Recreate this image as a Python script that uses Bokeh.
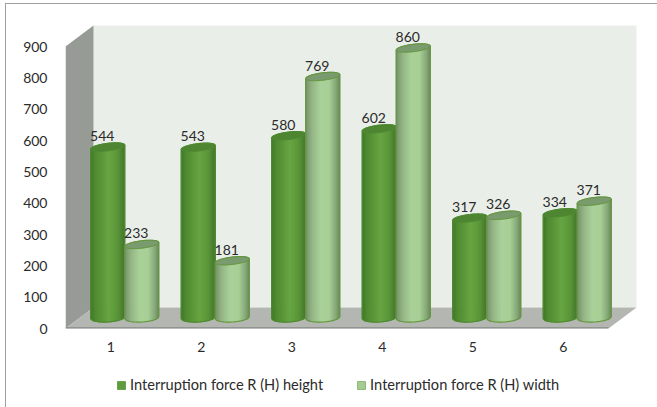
import math
from bokeh.plotting import figure
from bokeh.layouts import column
from bokeh.models import FixedTicker, Legend, LegendItem, ColumnDataSource
from bokeh.core.properties import value
from bokeh.embed import file_html
from bokeh.resources import INLINE

categories = [1, 2, 3, 4, 5, 6]
height_values = [544, 543, 580, 602, 317, 334]
width_values = [233, 181, 769, 860, 326, 371]
y_ticks = [0, 100, 200, 300, 400, 500, 600, 700, 800, 900]
series_names = ["Interruption force R (H) height", "Interruption force R (H) width"]

FONT = "Lato"
TXT = "#2b2b2b"
PX_X = 90.5
PX_Y = 282 / 900
DX, DY = 28 / PX_X, 21 / PX_Y      # depth of the box
MX, MY = 14 / PX_X, 11 / PX_Y      # depth of the bar plane
HW = 17 / PX_X                     # cylinder half width
N = 34

def hex2(c):
    return [int(c[i:i + 2], 16) for i in (1, 3, 5)]

def ramp(stops, t):
    for (a, ca), (b, cb) in zip(stops, stops[1:]):
        if t <= b:
            f = (t - a) / (b - a)
            x, y = hex2(ca), hex2(cb)
            return "#%02x%02x%02x" % tuple(round(x[i] + (y[i] - x[i]) * f) for i in range(3))
    return stops[-1][1]

dark = [(0, "#3f7526"), (.15, "#4f8a30"), (.55, "#67a442"), (.8, "#5a9638"), (1, "#44782b")]
light = [(0, "#738f68"), (.2, "#94b585"), (.45, "#a9d098"), (.7, "#a8cf96"), (.9, "#86a878"), (1, "#6d8b61")]

p = figure(width=651, height=358, output_backend="svg", toolbar_location=None,
           x_range=(0.5, 0.5 + 575 / PX_X), y_range=(0, 308 / PX_Y),
           min_border_left=59, min_border_right=17, min_border_top=16, min_border_bottom=34,
           outline_line_color=None, background_fill_color="white", border_fill_color="white")
p.grid.visible = False

xl, xr = 0.5, 6.5
top = max(y_ticks)
p.patch([xl + DX, xr + DX, xr + DX, xl + DX], [DY, DY, top + DY, top + DY], fill_color="#e9efe8", line_color=None)
p.patch([xl, xl + DX, xl + DX, xl], [0, DY, top + DY, top], fill_color="#969b96", line_color=None)
p.patch([xl, xl + DX, xr + DX, xr], [0, DY, DY, 0], fill_color="#b4b7b1", line_color=None)
p.line([xl, xr], [1, 1], line_color="#858a85", line_width=2)

def cylinder(cx, val, stops, cap, edge):
    base = MY
    tp = base + val
    e_b, e_t = 4.5 / PX_Y, 3.7 / PX_Y
    t_b, t_t = 1 / PX_Y, 2 / PX_Y
    xs, ys, cols = [], [], []
    for i in range(N):
        u0 = -1 + 2 * i / N
        u1 = -1 + 2 * (i + 1) / N
        bot = lambda u: base + t_b * u - e_b * math.sqrt(max(0, 1 - u * u))
        upp = lambda u: tp + t_t * u
        xs.append([cx + HW * u0, cx + HW * u1, cx + HW * u1, cx + HW * u0])
        ys.append([bot(u0), bot(u1), upp(u1), upp(u0)])
        cols.append(ramp(stops, (i + .5) / N))
    p.patches(xs, ys, fill_color=cols, line_color=cols, line_width=1)
    # silhouette
    ang = [math.pi * k / 30 for k in range(31)]
    ox = [cx + HW * math.cos(a + math.pi) for a in ang]
    oy = [base + t_b * math.cos(a + math.pi) - e_b * math.sin(a) for a in ang]
    ox += [cx + HW * math.cos(a) for a in ang]
    oy += [tp + t_t * math.cos(a) + e_t * math.sin(a) for a in ang]
    p.patch(ox, oy, fill_color=None, line_color=edge, line_width=1.2)
    # top cap
    ang = [2 * math.pi * k / 48 for k in range(48)]
    p.patch([cx + HW * math.cos(a) for a in ang],
            [tp + t_t * math.cos(a) + e_t * math.sin(a) for a in ang],
            fill_color=cap, line_color=edge, line_width=1)

lx, ly, lt = [], [], []
for c, h, w in zip(categories, height_values, width_values):
    cylinder(c + MX - HW, h, dark, "#4d8531", "#4f8a32")
    cylinder(c + MX + HW, w, light, "#7a9b6d", "#64963f")
    lx += [c + MX - HW, c + MX + HW]
    ly += [MY + h, MY + w]
    lt += [str(h), str(w)]

p.text(x="x", y="y", text="t", source=ColumnDataSource(dict(x=lx, y=ly, t=lt)),
       text_font=value(FONT), text_font_size="14px", text_color=TXT,
       text_align="center", text_baseline="bottom", x_offset=-5.5, y_offset=-6)

p.xaxis.ticker = FixedTicker(ticks=categories)
p.yaxis.ticker = FixedTicker(ticks=y_ticks)
for ax, off in ((p.xaxis, 7), (p.yaxis, 12)):
    ax.axis_line_color = None
    ax.major_tick_line_color = None
    ax.minor_tick_line_color = None
    ax.major_label_text_font = FONT
    ax.major_label_text_font_size = "14px"
    ax.major_label_text_color = TXT
    ax.major_label_standoff = off

# legend strip below the chart
q = figure(width=651, height=45, output_backend="svg", toolbar_location=None,
           x_range=(0, 651), y_range=(0, 45), x_axis_location=None, y_axis_location=None,
           min_border=0, outline_line_color=None, background_fill_color="white", border_fill_color="white")
q.grid.visible = False
nan = float("nan")
r1 = q.quad(left=[nan], right=[nan], top=[nan], bottom=[nan], fill_color="#5f9a3e", line_color="#6aa54a")
r2 = q.quad(left=[nan], right=[nan], top=[nan], bottom=[nan], fill_color="#a5cb92", line_color="#8fbb79")
leg = Legend(items=[LegendItem(label=series_names[0], renderers=[r1]),
                    LegendItem(label=series_names[1], renderers=[r2])],
             orientation="horizontal", location=(51, 14), padding=0, margin=0, spacing=33,
             glyph_width=10, glyph_height=10, label_standoff=4,
             label_text_font=FONT, label_text_font_size="14.6px", label_text_color=TXT,
             background_fill_alpha=0, border_line_color=None)
q.add_layout(leg, "center")

page = column(p, q, spacing=0)
page.styles = {"position": "absolute", "left": "5px", "top": "3px",
               "border-left": "1px solid #a0a0a0", "border-top": "1px solid #a0a0a0"}

open("out.html", "w").write(file_html(page, INLINE))
